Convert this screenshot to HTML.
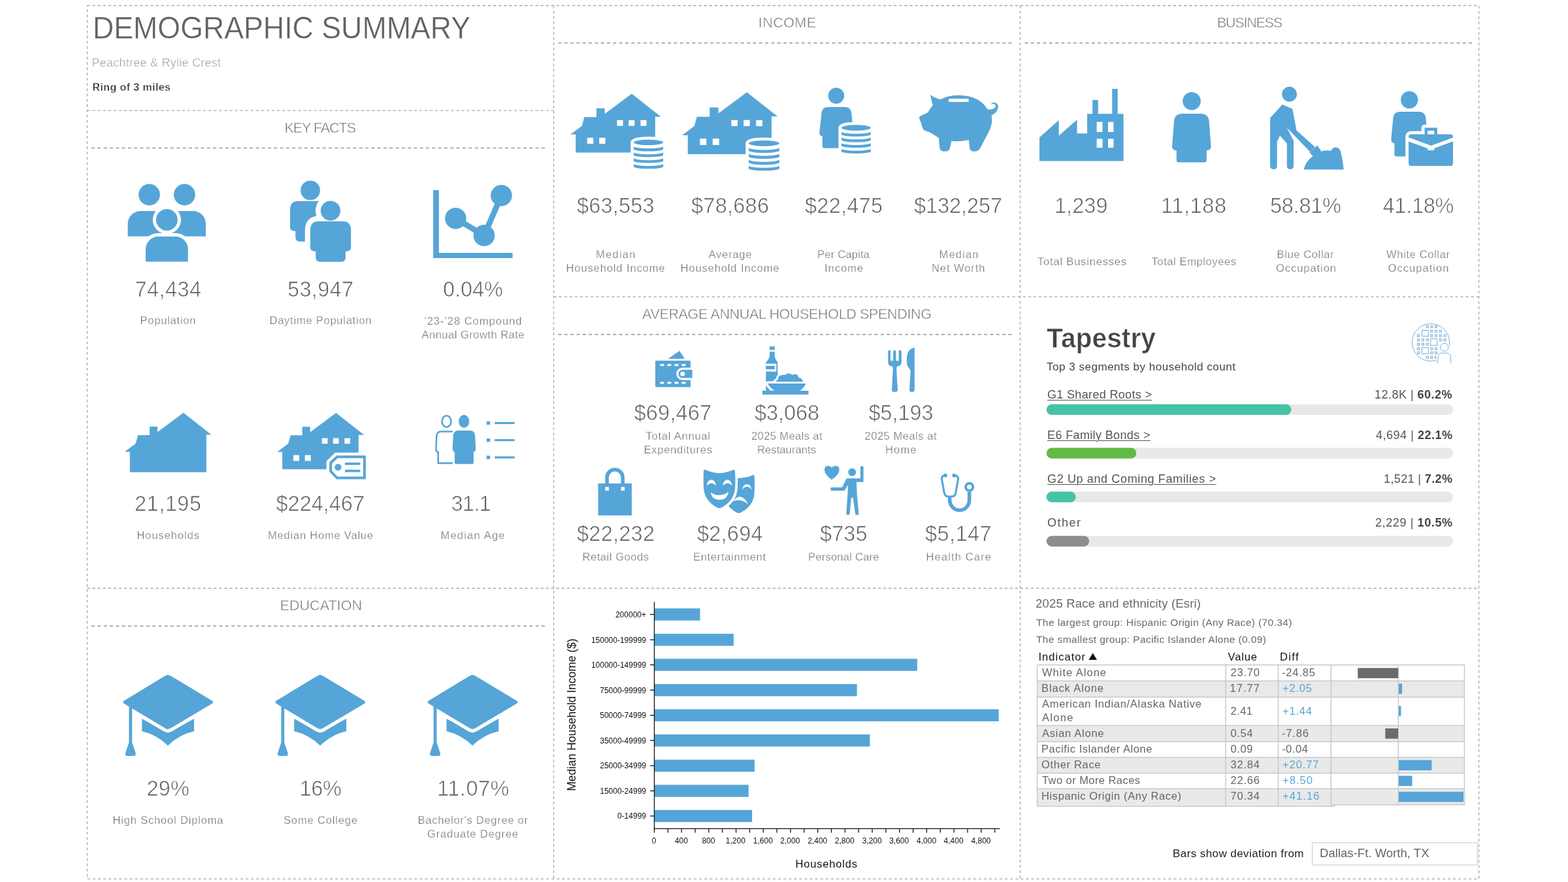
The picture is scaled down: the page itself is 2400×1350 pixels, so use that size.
<!DOCTYPE html>
<html lang="en"><head><meta charset="utf-8"><title>Demographic Summary - Peachtree &amp; Rylie Crest</title>
<style>
html,body{margin:0;padding:0;background:#fff}
body{width:2400px;height:1350px;position:relative;overflow:hidden;font-family:"Liberation Sans",sans-serif}
#g{position:absolute;left:0;top:0;width:2400px;height:1350px}
.t{position:absolute;white-space:nowrap;margin:0;padding:0}
.t b{font-weight:700;color:#444}
.ul{text-decoration:underline;text-decoration-thickness:1.2px;text-underline-offset:2px}
.title{font-size:47.5px;line-height:47.5px;color:#626262;font-weight:400;-webkit-text-stroke:0.4px #fff}
.sub{font-size:18px;line-height:18px;color:#a4a4a4;font-weight:400;-webkit-text-stroke:0.3px #fff}
.ring{font-size:16px;line-height:16px;color:#333333;font-weight:700;-webkit-text-stroke:0.3px #fff}
.hdr{font-size:21.5px;line-height:21.5px;color:#727272;font-weight:400;-webkit-text-stroke:0.5px #fff}
.num{font-size:32.5px;line-height:32.5px;color:#5f5f5f;font-weight:400;-webkit-text-stroke:0.7px #fff}
.lbl{font-size:16.5px;line-height:16.5px;color:#787878;font-weight:400;-webkit-text-stroke:0.25px #fff}
.tap{font-size:43px;line-height:43px;color:#444444;font-weight:700;-webkit-text-stroke:0.6px #fff}
.taps{font-size:17px;line-height:17px;color:#444444;font-weight:400}
.seg{font-size:18px;line-height:18px;color:#555555;font-weight:400}
.segv{font-size:18px;line-height:18px;color:#555555;font-weight:400}
.segb{font-size:18px;line-height:18px;color:#444444;font-weight:700}
.rt{font-size:18.5px;line-height:18.5px;color:#6a6a6a;font-weight:400}
.rs{font-size:15.5px;line-height:15.5px;color:#6a6a6a;font-weight:400}
.th{font-size:16.5px;line-height:16.5px;color:#111111;font-weight:400}
.td{font-size:16.5px;line-height:16.5px;color:#666666;font-weight:400}
.tdb{font-size:16.5px;line-height:16.5px;color:#5aa5d6;font-weight:400}
.bars{font-size:17px;line-height:17px;color:#222222;font-weight:400}
.dd{font-size:18.5px;line-height:18.5px;color:#666666;font-weight:400}
.ax{font-size:12px;line-height:12px;color:#111111;font-weight:400}
.axt{font-size:16.5px;line-height:16.5px;color:#111111;font-weight:400}
.axv{font-size:17.5px;line-height:17.5px;color:#111111;font-weight:400}

</style></head>
<body>
<svg id="g" width="2400" height="1350" viewBox="0 0 2400 1350">
<g fill="none" stroke="#a6a6a6" stroke-width="1.3" stroke-dasharray="4.2 3.87">
<rect x="133.5" y="8.5" width="2130.1" height="1336.9"/>
<line x1="847.5" y1="8.5" x2="847.5" y2="1345.4" />
<line x1="1561.5" y1="8.5" x2="1561.5" y2="1345.4" />
<line x1="133.5" y1="169.2" x2="847.5" y2="169.2" />
<line x1="847.5" y1="454.4" x2="2263.6" y2="454.4" />
<line x1="133.5" y1="900.5" x2="2263.6" y2="900.5" />
</g>
<g fill="none" stroke="#adadad" stroke-width="1.9" stroke-dasharray="5 4.31">
<line x1="140" y1="226.5" x2="836.7" y2="226.5" />
<line x1="140" y1="958.3" x2="836.7" y2="958.3" />
<line x1="854.5" y1="65.8" x2="1549.5" y2="65.8" />
<line x1="854.5" y1="512" x2="1550" y2="512" />
<line x1="1568.5" y1="65.7" x2="2253.8" y2="65.7" />
</g>
<rect x="1601.80" y="618.80" width="622.20" height="16.20" fill="#e8e8e8" rx="8.1"/>
<rect x="1601.80" y="618.80" width="374.56" height="16.20" fill="#46c3a7" rx="8.1"/>
<rect x="1601.80" y="685.50" width="622.20" height="16.20" fill="#e8e8e8" rx="8.1"/>
<rect x="1601.80" y="685.50" width="137.51" height="16.20" fill="#62ba46" rx="8.1"/>
<rect x="1601.80" y="752.60" width="622.20" height="16.20" fill="#e8e8e8" rx="8.1"/>
<rect x="1601.80" y="752.60" width="44.80" height="16.20" fill="#46c3a7" rx="8.1"/>
<rect x="1601.80" y="820.20" width="622.20" height="16.20" fill="#e8e8e8" rx="8.1"/>
<rect x="1601.80" y="820.20" width="65.33" height="16.20" fill="#8d8d8d" rx="8.1"/>
<rect x="1587.60" y="1042.20" width="653.90" height="24.70" fill="#e9e9e9" />
<rect x="1587.60" y="1110.50" width="653.90" height="24.70" fill="#e9e9e9" />
<rect x="1587.60" y="1159.20" width="653.90" height="24.40" fill="#e9e9e9" />
<rect x="1587.60" y="1207.20" width="653.90" height="25.30" fill="#e9e9e9" />
<rect x="1587.60" y="1232.50" width="455.60" height="1.60" fill="#e9e9e9" />
<g stroke="#c9c9c9" stroke-width="1.5" fill="none">
<line x1="1587.6" y1="1017.8" x2="2241.5" y2="1017.8" />
<line x1="1587.6" y1="1042.2" x2="2241.5" y2="1042.2" />
<line x1="1587.6" y1="1066.9" x2="2241.5" y2="1066.9" />
<line x1="1587.6" y1="1110.5" x2="2241.5" y2="1110.5" />
<line x1="1587.6" y1="1135.2" x2="2241.5" y2="1135.2" />
<line x1="1587.6" y1="1159.2" x2="2241.5" y2="1159.2" />
<line x1="1587.6" y1="1183.6" x2="2241.5" y2="1183.6" />
<line x1="1587.6" y1="1207.2" x2="2241.5" y2="1207.2" />
<line x1="2037.2" y1="1231.7" x2="2241.5" y2="1231.7" />
<line x1="1587.6" y1="1234.1" x2="2043.2" y2="1234.1" />
<line x1="1587.6" y1="1017.8" x2="1587.6" y2="1234.1" />
<line x1="1876" y1="1017.8" x2="1876" y2="1234.1" />
<line x1="1956.4" y1="1017.8" x2="1956.4" y2="1234.1" />
<line x1="2037.2" y1="1017.8" x2="2037.2" y2="1232.5" />
<line x1="2241.5" y1="1017.8" x2="2241.5" y2="1232.5" />
<line x1="2140.3" y1="1017.8" x2="2140.3" y2="1232.5" />
</g>
<rect x="2078.20" y="1022.40" width="61.80" height="15.70" fill="#6b6b6b" />
<rect x="2141.00" y="1046.40" width="5.00" height="15.70" fill="#56a5d8" />
<rect x="2141.00" y="1080.50" width="3.40" height="15.70" fill="#56a5d8" />
<rect x="2120.30" y="1114.90" width="19.70" height="15.70" fill="#6b6b6b" />
<rect x="2141.00" y="1163.40" width="50.40" height="15.70" fill="#56a5d8" />
<rect x="2141.00" y="1187.40" width="20.50" height="15.70" fill="#56a5d8" />
<rect x="2141.00" y="1211.80" width="99.00" height="15.70" fill="#56a5d8" />
<path d="M1666.4 1009.9 L1672.7 999.6 L1679 1009.9 Z" fill="#111"/>
<rect x="2008.6" y="1290" width="252.8" height="34" fill="#fff" stroke="#cfcfcf" stroke-width="1.2"/>
<rect x="1001.50" y="931.25" width="70.04" height="18.50" fill="#56a5d8" />
<rect x="1001.50" y="970.05" width="121.43" height="18.50" fill="#56a5d8" />
<rect x="1001.50" y="1008.35" width="402.43" height="18.50" fill="#56a5d8" />
<rect x="1001.50" y="1047.05" width="310.19" height="18.50" fill="#56a5d8" />
<rect x="1001.50" y="1085.55" width="527.20" height="18.50" fill="#56a5d8" />
<rect x="1001.50" y="1124.15" width="329.99" height="18.50" fill="#56a5d8" />
<rect x="1001.50" y="1162.75" width="153.43" height="18.50" fill="#56a5d8" />
<rect x="1001.50" y="1201.25" width="144.25" height="18.50" fill="#56a5d8" />
<rect x="1001.50" y="1239.75" width="149.67" height="18.50" fill="#56a5d8" />
<g stroke="#111" stroke-width="1.3" fill="none">
<line x1="1001.5" y1="921.3" x2="1001.5" y2="1268.3" />
<line x1="1000.85" y1="1268.3" x2="1530.6" y2="1268.3" />
<line x1="995" y1="940.5" x2="1001.5" y2="940.5" />
<line x1="995" y1="979.3" x2="1001.5" y2="979.3" />
<line x1="995" y1="1017.6" x2="1001.5" y2="1017.6" />
<line x1="995" y1="1056.3" x2="1001.5" y2="1056.3" />
<line x1="995" y1="1094.8" x2="1001.5" y2="1094.8" />
<line x1="995" y1="1133.4" x2="1001.5" y2="1133.4" />
<line x1="995" y1="1172" x2="1001.5" y2="1172" />
<line x1="995" y1="1210.5" x2="1001.5" y2="1210.5" />
<line x1="995" y1="1249" x2="1001.5" y2="1249" />
<line x1="1001.50" y1="1268.3" x2="1001.50" y2="1274.6" />
<line x1="1022.35" y1="1268.3" x2="1022.35" y2="1274.6" />
<line x1="1043.19" y1="1268.3" x2="1043.19" y2="1274.6" />
<line x1="1064.04" y1="1268.3" x2="1064.04" y2="1274.6" />
<line x1="1084.88" y1="1268.3" x2="1084.88" y2="1274.6" />
<line x1="1105.73" y1="1268.3" x2="1105.73" y2="1274.6" />
<line x1="1126.58" y1="1268.3" x2="1126.58" y2="1274.6" />
<line x1="1147.42" y1="1268.3" x2="1147.42" y2="1274.6" />
<line x1="1168.27" y1="1268.3" x2="1168.27" y2="1274.6" />
<line x1="1189.11" y1="1268.3" x2="1189.11" y2="1274.6" />
<line x1="1209.96" y1="1268.3" x2="1209.96" y2="1274.6" />
<line x1="1230.81" y1="1268.3" x2="1230.81" y2="1274.6" />
<line x1="1251.65" y1="1268.3" x2="1251.65" y2="1274.6" />
<line x1="1272.50" y1="1268.3" x2="1272.50" y2="1274.6" />
<line x1="1293.34" y1="1268.3" x2="1293.34" y2="1274.6" />
<line x1="1314.19" y1="1268.3" x2="1314.19" y2="1274.6" />
<line x1="1335.04" y1="1268.3" x2="1335.04" y2="1274.6" />
<line x1="1355.88" y1="1268.3" x2="1355.88" y2="1274.6" />
<line x1="1376.73" y1="1268.3" x2="1376.73" y2="1274.6" />
<line x1="1397.57" y1="1268.3" x2="1397.57" y2="1274.6" />
<line x1="1418.42" y1="1268.3" x2="1418.42" y2="1274.6" />
<line x1="1439.27" y1="1268.3" x2="1439.27" y2="1274.6" />
<line x1="1460.11" y1="1268.3" x2="1460.11" y2="1274.6" />
<line x1="1480.96" y1="1268.3" x2="1480.96" y2="1274.6" />
<line x1="1501.80" y1="1268.3" x2="1501.80" y2="1274.6" />
<line x1="1522.65" y1="1268.3" x2="1522.65" y2="1274.6" />
</g>
<g class="icon icon-population">
<circle cx="228.50" cy="298.00" r="16.40" fill="#56a5d8" />
<circle cx="282.40" cy="298.00" r="16.40" fill="#56a5d8" />
<path d="M195.6 361.8 V342.6 A19.5 19.5 0 0 1 215.1 323.1 H295.5 A19.5 19.5 0 0 1 315 342.6 V361.8 Z" fill="#56a5d8" />
<circle cx="255.40" cy="336.40" r="21.60" fill="#fff" />
<path d="M223 400.4 V381.5 A19.5 19.5 0 0 1 242.5 362 H268.3 A19.5 19.5 0 0 1 287.8 381.5 V400.4 Z" fill="#fff" stroke="#fff" stroke-width="10.4"/>
<rect x="215.00" y="400.50" width="80.00" height="8.00" fill="#fff" />
<path d="M223 400.4 V381.5 A19.5 19.5 0 0 1 242.5 362 H268.3 A19.5 19.5 0 0 1 287.8 381.5 V400.4 Z" fill="#56a5d8" />
<circle cx="255.40" cy="336.40" r="16.50" fill="#56a5d8" />
</g>
<g class="icon icon-daytime">
<circle cx="475.00" cy="291.40" r="14.90" fill="#56a5d8" />
<path d="M444 320.7 Q444 307.7 457 307.7 H493.2 Q506.2 307.7 506.2 320.7 V348.2 Q506.2 353.3 497.9 353.9 V363.2 Q497.9 369.7 491.2 369.7 H459 Q452.3 369.7 452.3 363.2 V353.9 Q444 353.3 444 348.2 Z" fill="#56a5d8" />
<path d="M475 351.8 Q475 338.8 488 338.8 H524.2 Q537.2 338.8 537.2 351.8 V379.3 Q537.2 384.40000000000003 528.9000000000001 385.0 V394.3 Q528.9000000000001 400.8 522.2 400.8 H490 Q483.3 400.8 483.3 394.3 V385.0 Q475 384.40000000000003 475 379.3 Z" fill="#fff" stroke="#fff" stroke-width="16.4"/>
<circle cx="505.90" cy="322.50" r="23.00" fill="#fff" />
<path d="M475 351.8 Q475 338.8 488 338.8 H524.2 Q537.2 338.8 537.2 351.8 V379.3 Q537.2 384.40000000000003 528.9000000000001 385.0 V394.3 Q528.9000000000001 400.8 522.2 400.8 H490 Q483.3 400.8 483.3 394.3 V385.0 Q475 384.40000000000003 475 379.3 Z" fill="#56a5d8" />
<circle cx="505.90" cy="322.50" r="15.10" fill="#56a5d8" />
</g>
<g class="icon icon-growth">
<path d="M663.1 291 H671.8 V387 H784.5 V394.9 H663.1 Z" fill="#56a5d8" />
<path d="M697.4 334.3 L740.9 360.4 L767.4 299.3" fill="none" stroke="#56a5d8" stroke-width="8.8" stroke-linejoin="round"/>
<circle cx="697.40" cy="334.30" r="16.30" fill="#56a5d8" />
<circle cx="740.90" cy="360.40" r="16.30" fill="#56a5d8" />
<circle cx="767.40" cy="299.30" r="16.30" fill="#56a5d8" />
</g>
<g class="icon icon-households">
<path d="M280.80 631.80 L323.60 665.60 L315.80 665.60 L315.80 722.70 L198.80 722.70 L198.80 691.60 L190.70 691.60 L207.60 678.90 L211.20 666.00 L229.00 666.00 L229.00 653.10 L241.10 653.10 L241.10 661.20 Z" fill="#56a5d8" />
</g>
<g class="icon icon-homevalue">
<path d="M514.40 632.00 L557.20 665.80 L548.80 665.80 L548.80 718.20 L432.10 718.20 L432.10 691.80 L424.30 691.80 L441.20 679.10 L444.80 666.20 L462.60 666.20 L462.60 653.30 L474.70 653.30 L474.70 661.40 Z" fill="#56a5d8" />
<rect x="492.80" y="670.70" width="8.70" height="8.50" fill="#fff" />
<rect x="509.80" y="670.70" width="8.70" height="8.50" fill="#fff" />
<rect x="527.30" y="670.70" width="8.70" height="8.50" fill="#fff" />
<rect x="449.00" y="696.60" width="9.00" height="8.90" fill="#fff" />
<rect x="466.70" y="696.60" width="9.00" height="8.90" fill="#fff" />
<path d="M515 697.2 H559.9 V733.6 H515 L504.2 722.2 V707.6 Z" fill="#fff" stroke="#fff" stroke-width="9" stroke-linejoin="miter"/>
<path d="M516 699.2 H557.9 V731.6 H516 L506.2 721.4 V708.4 Z" fill="#fff" stroke="#56a5d8" stroke-width="4"/>
<circle cx="517.40" cy="715.10" r="5.20" fill="#56a5d8" />
<rect x="527.90" y="708.00" width="23.50" height="3.70" fill="#56a5d8" />
<rect x="527.90" y="718.90" width="23.50" height="3.80" fill="#56a5d8" />
</g>
<g class="icon icon-medianage">
<ellipse cx="683.5" cy="645" rx="7" ry="8.7" fill="none" stroke="#56a5d8" stroke-width="2.6"/>
<path d="M692.8 660.5 H675 Q668.6 660.5 668.2 668 L667.4 687.5 Q667.4 691 670.7 692.2 V708.9 H692.8" fill="none" stroke="#56a5d8" stroke-width="2.6"/>
<path d="M693.60 667.90 Q693.60 659.10 701.60 659.10 H719.20 Q727.20 659.10 727.20 667.90 L728.10 685.50 Q728.30 691.00 724.90 692.00 V708.20 Q724.90 710.20 722.90 710.20 H697.90 Q695.90 710.20 695.90 708.20 V692.00 Q692.50 691.00 692.70 685.50 Z" fill="#fff" stroke="#fff" stroke-width="3.2"/>
<path d="M693.60 667.90 Q693.60 659.10 701.60 659.10 H719.20 Q727.20 659.10 727.20 667.90 L728.10 685.50 Q728.30 691.00 724.90 692.00 V708.20 Q724.90 710.20 722.90 710.20 H697.90 Q695.90 710.20 695.90 708.20 V692.00 Q692.50 691.00 692.70 685.50 Z" fill="#56a5d8" />
<ellipse cx="710.2" cy="645" rx="8.1" ry="10" fill="#56a5d8"/>
<rect x="744.80" y="644.90" width="5.40" height="5.20" fill="#56a5d8" />
<rect x="757.20" y="645.90" width="30.40" height="3.20" fill="#56a5d8" />
<rect x="744.80" y="671.10" width="5.40" height="5.20" fill="#56a5d8" />
<rect x="757.20" y="672.10" width="30.40" height="3.20" fill="#56a5d8" />
<rect x="744.80" y="697.50" width="5.40" height="5.20" fill="#56a5d8" />
<rect x="757.20" y="698.50" width="30.40" height="3.20" fill="#56a5d8" />
</g>
<g class="icon icon-edu1">
<path d="M 217.27 1100.00 L 257.00 1121.48 L 297.05 1100.00 V 1119.33 Q 273.64 1124.70 257.00 1141.34 Q 240.36 1124.70 217.27 1119.33 Z" fill="#56a5d8" />
<path d="M 257.00 1032.89 Q 258.61 1032.89 261.83 1034.82 L 324.11 1072.19 Q 326.48 1073.69 326.26 1074.77 Q 326.26 1075.84 324.11 1077.13 L 261.83 1114.28 Q 258.61 1116.11 257.00 1116.11 Q 255.39 1116.11 252.17 1114.28 L 190.42 1077.13 Q 188.28 1075.84 188.28 1074.55 Q 188.28 1073.48 190.42 1072.19 L 252.17 1034.82 Q 255.39 1032.89 257.00 1032.89 Z" fill="#fff" stroke="#fff" stroke-width="10.5" stroke-linejoin="round"/>
<path d="M 197.40 1080.13 H 202.23 V 1136.51 L 207.60 1152.62 Q 208.14 1156.91 205.46 1156.91 H 194.18 Q 191.50 1156.91 192.03 1152.62 L 197.40 1136.51 Z" fill="#56a5d8" />
<path d="M 257.00 1032.89 Q 258.61 1032.89 261.83 1034.82 L 324.11 1072.19 Q 326.48 1073.69 326.26 1074.77 Q 326.26 1075.84 324.11 1077.13 L 261.83 1114.28 Q 258.61 1116.11 257.00 1116.11 Q 255.39 1116.11 252.17 1114.28 L 190.42 1077.13 Q 188.28 1075.84 188.28 1074.55 Q 188.28 1073.48 190.42 1072.19 L 252.17 1034.82 Q 255.39 1032.89 257.00 1032.89 Z" fill="#56a5d8" />
</g>
<g class="icon icon-edu2">
<path d="M 450.27 1100.00 L 490.00 1121.48 L 530.05 1100.00 V 1119.33 Q 506.64 1124.70 490.00 1141.34 Q 473.36 1124.70 450.27 1119.33 Z" fill="#56a5d8" />
<path d="M 490.00 1032.89 Q 491.61 1032.89 494.83 1034.82 L 557.11 1072.19 Q 559.48 1073.69 559.26 1074.77 Q 559.26 1075.84 557.11 1077.13 L 494.83 1114.28 Q 491.61 1116.11 490.00 1116.11 Q 488.39 1116.11 485.17 1114.28 L 423.42 1077.13 Q 421.28 1075.84 421.28 1074.55 Q 421.28 1073.48 423.42 1072.19 L 485.17 1034.82 Q 488.39 1032.89 490.00 1032.89 Z" fill="#fff" stroke="#fff" stroke-width="10.5" stroke-linejoin="round"/>
<path d="M 430.40 1080.13 H 435.23 V 1136.51 L 440.60 1152.62 Q 441.14 1156.91 438.46 1156.91 H 427.18 Q 424.50 1156.91 425.03 1152.62 L 430.40 1136.51 Z" fill="#56a5d8" />
<path d="M 490.00 1032.89 Q 491.61 1032.89 494.83 1034.82 L 557.11 1072.19 Q 559.48 1073.69 559.26 1074.77 Q 559.26 1075.84 557.11 1077.13 L 494.83 1114.28 Q 491.61 1116.11 490.00 1116.11 Q 488.39 1116.11 485.17 1114.28 L 423.42 1077.13 Q 421.28 1075.84 421.28 1074.55 Q 421.28 1073.48 423.42 1072.19 L 485.17 1034.82 Q 488.39 1032.89 490.00 1032.89 Z" fill="#56a5d8" />
</g>
<g class="icon icon-edu3">
<path d="M 683.47 1100.00 L 723.20 1121.48 L 763.25 1100.00 V 1119.33 Q 739.84 1124.70 723.20 1141.34 Q 706.56 1124.70 683.47 1119.33 Z" fill="#56a5d8" />
<path d="M 723.20 1032.89 Q 724.81 1032.89 728.03 1034.82 L 790.31 1072.19 Q 792.68 1073.69 792.46 1074.77 Q 792.46 1075.84 790.31 1077.13 L 728.03 1114.28 Q 724.81 1116.11 723.20 1116.11 Q 721.59 1116.11 718.37 1114.28 L 656.62 1077.13 Q 654.48 1075.84 654.48 1074.55 Q 654.48 1073.48 656.62 1072.19 L 718.37 1034.82 Q 721.59 1032.89 723.20 1032.89 Z" fill="#fff" stroke="#fff" stroke-width="10.5" stroke-linejoin="round"/>
<path d="M 663.60 1080.13 H 668.43 V 1136.51 L 673.80 1152.62 Q 674.34 1156.91 671.66 1156.91 H 660.38 Q 657.70 1156.91 658.23 1152.62 L 663.60 1136.51 Z" fill="#56a5d8" />
<path d="M 723.20 1032.89 Q 724.81 1032.89 728.03 1034.82 L 790.31 1072.19 Q 792.68 1073.69 792.46 1074.77 Q 792.46 1075.84 790.31 1077.13 L 728.03 1114.28 Q 724.81 1116.11 723.20 1116.11 Q 721.59 1116.11 718.37 1114.28 L 656.62 1077.13 Q 654.48 1075.84 654.48 1074.55 Q 654.48 1073.48 656.62 1072.19 L 718.37 1034.82 Q 721.59 1032.89 723.20 1032.89 Z" fill="#56a5d8" />
</g>
<g class="icon icon-median_income">
<path d="M966.97 143.50 L1011.61 178.75 L1002.85 178.75 L1002.85 233.41 L881.14 233.41 L881.14 205.87 L873.00 205.87 L890.63 192.63 L894.38 179.17 L912.95 179.17 L912.95 165.72 L925.57 165.72 L925.57 174.16 Z" fill="#56a5d8" />
<rect x="944.45" y="183.86" width="9.07" height="8.87" fill="#fff" />
<rect x="962.18" y="183.86" width="9.07" height="8.87" fill="#fff" />
<rect x="980.43" y="183.86" width="9.07" height="8.87" fill="#fff" />
<rect x="898.76" y="210.88" width="9.39" height="9.28" fill="#fff" />
<rect x="917.22" y="210.88" width="9.39" height="9.28" fill="#fff" />
<path d="M969.90 218.00 A22.60 4.15 0 0 1 1015.10 218.00 V255.06 A22.60 3.30 0 0 1 969.90 255.06 Z" fill="#fff" stroke="#fff" stroke-width="9.2" stroke-linejoin="round"/>
<ellipse cx="992.50" cy="218.00" rx="22.60" ry="4.15" fill="#56a5d8"/>
<path d="M969.90 224.00 A22.60 3.30 0 0 0 1015.10 224.00 V228.30 A22.60 3.30 0 0 1 969.90 228.30 Z" fill="#56a5d8" />
<path d="M969.90 232.92 A22.60 3.30 0 0 0 1015.10 232.92 V237.22 A22.60 3.30 0 0 1 969.90 237.22 Z" fill="#56a5d8" />
<path d="M969.90 241.84 A22.60 3.30 0 0 0 1015.10 241.84 V246.14 A22.60 3.30 0 0 1 969.90 246.14 Z" fill="#56a5d8" />
<path d="M969.90 250.76 A22.60 3.30 0 0 0 1015.10 250.76 V255.06 A22.60 3.30 0 0 1 969.90 255.06 Z" fill="#56a5d8" />
</g>
<g class="icon icon-avg_income">
<path d="M1143.18 141.20 L1190.20 178.33 L1180.98 178.33 L1180.98 235.90 L1052.77 235.90 L1052.77 206.90 L1044.20 206.90 L1062.77 192.94 L1066.72 178.77 L1086.28 178.77 L1086.28 164.60 L1099.57 164.60 L1099.57 173.50 Z" fill="#56a5d8" />
<rect x="1119.45" y="183.72" width="9.56" height="9.34" fill="#fff" />
<rect x="1138.13" y="183.72" width="9.56" height="9.34" fill="#fff" />
<rect x="1157.36" y="183.72" width="9.56" height="9.34" fill="#fff" />
<rect x="1071.34" y="212.17" width="9.89" height="9.78" fill="#fff" />
<rect x="1090.78" y="212.17" width="9.89" height="9.78" fill="#fff" />
<path d="M1145.90 219.40 A23.50 4.40 0 0 1 1192.90 219.40 V257.95 A23.50 3.40 0 0 1 1145.90 257.95 Z" fill="#fff" stroke="#fff" stroke-width="9.2" stroke-linejoin="round"/>
<ellipse cx="1169.40" cy="219.40" rx="23.50" ry="4.40" fill="#56a5d8"/>
<path d="M1145.90 226.00 A23.50 3.40 0 0 0 1192.90 226.00 V230.50 A23.50 3.40 0 0 1 1145.90 230.50 Z" fill="#56a5d8" />
<path d="M1145.90 235.15 A23.50 3.40 0 0 0 1192.90 235.15 V239.65 A23.50 3.40 0 0 1 1145.90 239.65 Z" fill="#56a5d8" />
<path d="M1145.90 244.30 A23.50 3.40 0 0 0 1192.90 244.30 V248.80 A23.50 3.40 0 0 1 1145.90 248.80 Z" fill="#56a5d8" />
<path d="M1145.90 253.45 A23.50 3.40 0 0 0 1192.90 253.45 V257.95 A23.50 3.40 0 0 1 1145.90 257.95 Z" fill="#56a5d8" />
</g>
<g class="icon icon-percapita">
<circle cx="1279.90" cy="146.50" r="12.20" fill="#56a5d8" />
<path d="M1257.20 175.90 Q1257.20 163.80 1268.20 163.80 H1292.50 Q1303.50 163.80 1303.50 175.90 L1306.50 202.30 Q1306.70 207.80 1301.90 208.80 V223.70 Q1301.90 226.70 1298.90 226.70 H1261.80 Q1258.80 226.70 1258.80 223.70 V208.80 Q1254.00 207.80 1254.20 202.30 Z" fill="#56a5d8" />
<path d="M1288.00 195.60 A22.40 4.30 0 0 1 1332.80 195.60 V231.71 A22.40 3.30 0 0 1 1288.00 231.71 Z" fill="#fff" stroke="#fff" stroke-width="9.2" stroke-linejoin="round"/>
<ellipse cx="1310.40" cy="195.60" rx="22.40" ry="4.30" fill="#56a5d8"/>
<path d="M1288.00 201.40 A22.40 3.30 0 0 0 1332.80 201.40 V205.70 A22.40 3.30 0 0 1 1288.00 205.70 Z" fill="#56a5d8" />
<path d="M1288.00 210.07 A22.40 3.30 0 0 0 1332.80 210.07 V214.37 A22.40 3.30 0 0 1 1288.00 214.37 Z" fill="#56a5d8" />
<path d="M1288.00 218.74 A22.40 3.30 0 0 0 1332.80 218.74 V223.04 A22.40 3.30 0 0 1 1288.00 223.04 Z" fill="#56a5d8" />
<path d="M1288.00 227.41 A22.40 3.30 0 0 0 1332.80 227.41 V231.71 A22.40 3.30 0 0 1 1288.00 231.71 Z" fill="#56a5d8" />
</g>
<g class="icon icon-networth">
<path d="M 1423.97 145.16 Q 1430.78 150.02 1439.30 152.32 Q 1451.23 145.76 1465.71 145.76 Q 1485.30 145.76 1497.23 153.00 Q 1505.75 158.11 1510.86 166.63 Q 1517.68 168.76 1521.94 165.78 Q 1525.35 162.80 1522.79 159.82 Q 1520.23 158.11 1516.83 159.99 Q 1517.68 157.09 1521.94 157.09 Q 1527.90 157.69 1527.90 164.08 Q 1526.62 172.60 1517.68 176.43 Q 1518.96 184.52 1517.68 189.64 Q 1515.97 198.15 1511.71 204.97 L 1500.21 227.12 Q 1497.23 231.81 1491.27 231.81 Q 1484.45 231.81 1484.03 226.27 L 1482.75 214.34 Q 1469.97 216.90 1456.34 216.05 L 1453.95 227.12 Q 1452.93 231.81 1446.12 231.81 Q 1439.30 231.81 1438.28 226.27 L 1436.74 210.93 Q 1429.08 205.82 1423.11 202.41 Q 1418.00 200.71 1414.59 199.43 Q 1412.04 197.30 1410.33 189.64 Q 1408.63 185.38 1406.93 181.12 Q 1406.93 177.71 1412.04 176.00 L 1419.71 172.60 Q 1423.97 165.78 1427.80 160.67 Q 1426.10 155.56 1423.97 145.16 Z" fill="#56a5d8" />
<rect x="1451.90" y="150.90" width="30.80" height="5.10" fill="#fff" rx="1.2"/>
</g>
<g class="icon icon-businesses">
<path d="M 1591.07 246.50 V 210.20 L 1620.63 183.92 V 207.80 L 1648.55 183.25 V 204.14 H 1664.05 V 174.29 H 1672.23 V 152.92 H 1680.80 V 174.29 H 1702.27 V 135.88 H 1710.74 V 174.29 H 1719.60 V 246.50 Z" fill="#56a5d8" />
<rect x="1678.70" y="186.60" width="8.80" height="15.40" fill="#fff" />
<rect x="1678.70" y="212.40" width="8.80" height="13.70" fill="#fff" />
<rect x="1696.00" y="186.60" width="8.40" height="15.40" fill="#fff" />
<rect x="1696.00" y="212.40" width="8.40" height="13.70" fill="#fff" />
</g>
<g class="icon icon-employees">
<circle cx="1824.00" cy="154.70" r="13.80" fill="#56a5d8" />
<path d="M1796.80 188.30 Q1796.80 174.00 1809.80 174.00 H1837.80 Q1850.80 174.00 1850.80 188.30 L1853.60 224.00 Q1853.80 229.50 1846.80 230.50 V245.00 Q1846.80 248.50 1843.30 248.50 H1804.30 Q1800.80 248.50 1800.80 245.00 V230.50 Q1793.80 229.50 1794.00 224.00 Z" fill="#56a5d8" />
</g>
<g class="icon icon-bluecollar">
<circle cx="1973.60" cy="144.20" r="11.40" fill="#56a5d8" />
<path d="M 1962.78 160.00 L 1978.33 166.67 L 1984.44 199.44 L 2012.78 225.00 L 2005.33 232.44 L 1969.78 195.56 L 1980.00 215.56 V 253.89 Q 1980.00 259.11 1974.89 259.11 Q 1969.78 259.11 1969.78 253.89 V 219.44 L 1959.11 207.78 L 1954.67 216.67 V 253.89 Q 1954.67 259.11 1949.44 259.11 Q 1944.11 259.11 1944.11 253.89 V 180.56 Z" fill="#56a5d8" />
<path d="M 2016.11 222.78 L 2022.22 231.11 L 2010.00 239.44 L 2004.22 233.33 Z" fill="#56a5d8" />
<path d="M 1995.56 259.44 Q 1998.89 246.67 2007.78 240.56 Q 2017.78 232.22 2024.44 231.11 Q 2032.22 229.44 2037.22 231.11 Q 2039.44 225.56 2044.44 225.56 Q 2050.00 226.11 2051.67 231.11 Q 2055.00 242.22 2056.67 259.44 Z" fill="#56a5d8" />
</g>
<g class="icon icon-whitecollar">
<circle cx="2157.20" cy="152.80" r="13.20" fill="#56a5d8" />
<path d="M2132.20 183.10 Q2132.20 171.00 2143.20 171.00 H2171.50 Q2182.50 171.00 2182.50 183.10 L2185.40 213.00 Q2185.60 218.50 2180.40 219.50 V236.50 Q2180.40 239.50 2177.40 239.50 H2137.30 Q2134.30 239.50 2134.30 236.50 V219.50 Q2129.10 218.50 2129.30 213.00 Z" fill="#56a5d8" />
<path d="M2160 205.5 H2220 Q2224 205.5 2224 209.5 V250 Q2224 254 2220 254 H2160 Q2156 254 2156 250 V209.5 Q2156 205.5 2160 205.5 Z M2180.5 206 V195.5 H2199.8 V206 Z" fill="#fff" stroke="#fff" stroke-width="9.6" stroke-linejoin="round"/>
<path d="M2160 205.5 H2220 Q2224 205.5 2224 209.5 V250 Q2224 254 2220 254 H2160 Q2156 254 2156 250 V209.5 Q2156 205.5 2160 205.5 Z" fill="#56a5d8" />
<path d="M2182.8 206 V197.8 H2197.5 V206" fill="none" stroke="#56a5d8" stroke-width="4.6"/>
<path d="M2155 213 L2190.2 226 L2225 213" fill="none" stroke="#fff" stroke-width="5.6"/>
<rect x="2185.20" y="224.00" width="10.00" height="6.00" fill="#fff" />
</g>
<g class="icon icon-expenditures">
<path d="M1022.3 549.3 L1040.1 537.1 L1048.1 549.3 Z" fill="#56a5d8" />
<rect x="1003.00" y="552.00" width="54.00" height="40.60" fill="#56a5d8" rx="1.5"/>
<line x1="1010.4" y1="558.8" x2="1050" y2="558.8" stroke="#fff" stroke-width="3" stroke-dasharray="6 5"/>
<line x1="1010.4" y1="586.0" x2="1050" y2="586.0" stroke="#fff" stroke-width="3" stroke-dasharray="6 5"/>
<path d="M1059.6 565.9 H1044.7 A6.35 6.35 0 0 0 1044.7 578.6 H1059.6 Z" fill="#56a5d8" stroke="#fff" stroke-width="6.2" paint-order="stroke"/>
<rect x="1057.20" y="565.90" width="2.60" height="12.70" fill="#56a5d8" />
<rect x="1057.10" y="562.20" width="5.90" height="3.65" fill="#fff" />
<rect x="1057.10" y="578.65" width="5.90" height="3.75" fill="#fff" />
<rect x="1059.70" y="560.00" width="4.30" height="24.00" fill="#fff" />
<circle cx="1044.80" cy="572.20" r="3.50" fill="#fff" />
</g>
<g class="icon icon-restaurants">
<rect x="1178.00" y="530.30" width="7.80" height="5.40" fill="#56a5d8" />
<path d="M 1178.00 538.33 H 1185.80 V 545.33 Q 1186.33 549.33 1190.33 554.67 V 598.00 H 1172.33 V 554.67 Q 1177.33 549.33 1178.00 545.33 Z" fill="#56a5d8" />
<rect x="1172.30" y="556.70" width="16.00" height="12.00" fill="#fff" />
<rect x="1172.30" y="560.00" width="13.50" height="5.30" fill="#56a5d8" />
<rect x="1167.00" y="598.00" width="70.30" height="5.70" fill="#56a5d8" />
<path d="M 1175.00 587.00 H 1233.67 Q 1230.33 594.00 1224.33 598.00 H 1185.33 Q 1179.00 594.00 1175.00 587.00 Z" fill="#fff" stroke="#fff" stroke-width="7" stroke-linejoin="round"/>
<path d="M 1186.33 584.33 Q 1189.67 582.00 1191.33 580.00 Q 1190.33 576.67 1194.33 574.67 Q 1198.33 573.33 1201.67 574.00 Q 1204.33 570.67 1208.33 571.67 Q 1211.67 572.67 1213.00 574.00 Q 1216.33 571.67 1219.67 573.33 Q 1222.33 575.33 1222.33 578.00 Q 1227.00 578.67 1228.33 582.00 Q 1229.00 583.33 1229.00 584.33 Z" fill="#fff" stroke="#fff" stroke-width="6" stroke-linejoin="round"/>
<rect x="1167.00" y="598.00" width="70.30" height="5.70" fill="#56a5d8" />
<path d="M 1175.00 587.00 H 1233.67 Q 1230.33 594.00 1224.33 598.00 H 1185.33 Q 1179.00 594.00 1175.00 587.00 Z" fill="#56a5d8" />
<path d="M 1186.33 584.33 Q 1189.67 582.00 1191.33 580.00 Q 1190.33 576.67 1194.33 574.67 Q 1198.33 573.33 1201.67 574.00 Q 1204.33 570.67 1208.33 571.67 Q 1211.67 572.67 1213.00 574.00 Q 1216.33 571.67 1219.67 573.33 Q 1222.33 575.33 1222.33 578.00 Q 1227.00 578.67 1228.33 582.00 Q 1229.00 583.33 1229.00 584.33 Z" fill="#56a5d8" />
</g>
<g class="icon icon-mealshome">
<path d="M 1359.33 538.33 Q 1359.33 536.00 1361.13 536.00 Q 1363.00 536.00 1363.00 538.33 V 552.33 H 1367.20 V 538.33 Q 1367.20 536.00 1369.27 536.00 Q 1371.33 536.00 1371.33 538.33 V 552.33 H 1375.67 V 538.33 Q 1375.67 536.00 1377.73 536.00 Q 1379.80 536.00 1379.80 538.33 V 554.67 Q 1379.80 559.33 1375.00 560.33 Q 1372.00 560.80 1372.13 564.00 L 1374.00 596.67 Q 1374.00 600.00 1369.47 600.00 Q 1365.00 600.00 1365.00 596.67 L 1366.87 564.00 Q 1367.00 560.80 1364.00 560.33 Q 1359.33 559.33 1359.33 554.67 Z" fill="#56a5d8" />
<path d="M 1399.80 531.87 V 596.67 Q 1399.80 600.00 1395.87 600.00 Q 1392.00 600.00 1392.00 596.67 L 1393.67 568.00 Q 1393.80 566.00 1391.67 563.67 Q 1388.00 560.00 1388.00 554.67 V 546.67 Q 1388.33 534.67 1399.80 531.87 Z" fill="#56a5d8" />
</g>
<g class="icon icon-retail">
<path d="M929.05 748 V730.75 A12 12 0 0 1 953.15 730.75 V748" fill="none" stroke="#56a5d8" stroke-width="5.5"/>
<rect x="915.50" y="740.00" width="51.40" height="48.90" fill="#56a5d8" />
<rect x="926.30" y="745.30" width="5.60" height="5.70" fill="#fff" />
<rect x="950.60" y="745.30" width="5.50" height="5.70" fill="#fff" />
</g>
<g class="icon icon-entertainment">
<path d="M 1128.00 732.00 Q 1143.67 731.67 1151.67 727.33 Q 1154.00 726.33 1154.67 728.33 Q 1155.67 745.00 1154.33 758.33 Q 1151.67 775.67 1133.67 784.67 Q 1130.33 786.00 1127.00 784.33 Q 1118.33 779.00 1115.00 774.33 Q 1125.00 765.00 1127.00 757.00 Z" fill="#56a5d8" />
<path d="M 1136.00 749.67 Q 1137.67 741.33 1143.33 741.00 Q 1149.00 741.33 1150.67 749.67 Q 1147.67 745.00 1143.33 745.00 Q 1139.00 745.00 1136.00 749.67 Z" fill="#fff" />
<path d="M 1121.67 767.33 Q 1127.00 760.33 1132.33 760.33 Q 1141.00 761.67 1145.00 772.33 Q 1139.67 766.33 1132.33 765.67 Q 1127.00 765.33 1121.67 767.33 Z" fill="#fff" />
<path d="M 1077.00 721.00 Q 1077.33 718.33 1080.00 719.33 Q 1090.33 724.00 1101.00 724.33 Q 1111.67 724.00 1122.00 719.33 Q 1124.67 718.33 1125.00 721.00 Q 1126.00 735.00 1125.00 748.33 Q 1123.00 767.00 1104.33 777.00 Q 1101.00 778.33 1097.67 777.00 Q 1079.00 767.00 1077.13 748.33 Q 1076.33 735.00 1077.00 721.00 Z" fill="#56a5d8" stroke="#fff" stroke-width="7.5" paint-order="stroke"/>
<path d="M 1081.67 743.67 Q 1082.80 734.67 1088.80 734.33 Q 1094.80 734.67 1095.93 743.67 Q 1092.80 739.67 1088.80 739.67 Q 1084.80 739.67 1081.67 743.67 Z" fill="#fff" />
<path d="M 1106.20 743.67 Q 1107.33 734.67 1113.33 734.33 Q 1119.33 734.67 1120.47 743.67 Q 1117.33 739.67 1113.33 739.67 Q 1109.33 739.67 1106.20 743.67 Z" fill="#fff" />
<path d="M 1087.67 753.67 Q 1101.33 762.33 1115.00 753.00 Q 1113.00 765.00 1101.33 765.00 Q 1089.67 765.00 1087.67 753.67 Z" fill="#fff" />
</g>
<g class="icon icon-personalcare">
<path d="M 1273.00 734.33 Q 1262.00 726.33 1262.00 719.33 Q 1262.00 713.00 1267.67 713.00 Q 1271.33 713.00 1273.00 716.00 Q 1275.00 713.00 1279.00 713.00 Q 1284.67 713.00 1284.67 719.33 Q 1284.67 726.33 1273.00 734.33 Z" fill="#56a5d8" />
<circle cx="1304.30" cy="722.70" r="6.00" fill="#56a5d8" />
<path d="M 1296.67 732.33 H 1316.87 V 716.00 Q 1316.87 713.33 1319.27 713.33 Q 1321.67 713.33 1321.67 716.00 V 737.67 H 1311.00 L 1311.67 755.67 L 1314.33 785.67 Q 1314.33 788.33 1311.67 788.33 Q 1309.33 788.33 1309.00 786.00 L 1305.67 761.67 H 1303.00 L 1300.67 786.00 Q 1300.33 788.33 1298.00 788.33 Q 1295.33 788.33 1295.33 785.67 L 1297.67 751.67 V 742.33 L 1292.67 751.00 H 1273.33 Q 1271.00 751.00 1271.00 748.47 Q 1271.00 746.00 1273.33 746.00 H 1289.00 L 1295.00 733.67 Q 1295.67 732.33 1296.67 732.33 Z" fill="#56a5d8" />
</g>
<g class="icon icon-healthcare">
<path d="M 1447.00 727.67 Q 1441.67 728.00 1441.33 732.67 L 1445.20 754.00 Q 1446.00 759.67 1451.33 760.00 H 1457.33 Q 1462.00 759.67 1462.80 754.00 L 1466.67 732.67 Q 1466.33 728.00 1460.33 727.67" fill="none" stroke="#56a5d8" stroke-width="3.1" stroke-linecap="round"/>
<circle cx="1447.00" cy="727.70" r="2.90" fill="#56a5d8" />
<circle cx="1460.30" cy="727.70" r="2.90" fill="#56a5d8" />
<path d="M 1453.67 760.00 V 765.33 A 15.00 15.67 0 0 0 1483.67 765.33 V 752.67" fill="none" stroke="#56a5d8" stroke-width="5.6"/>
<circle cx="1483.7" cy="745.3" r="5.6" fill="#fff" stroke="#56a5d8" stroke-width="3.9"/>
</g>
<g class="icon icon-tapestry">
<circle cx="2190" cy="524.1" r="28.6" fill="none" stroke="#7badd6" stroke-width="1"/>
<g fill="#d9ebf8" stroke="#7badd6" stroke-width="0.9">
<rect x="2169.4" y="512.0" width="3.2" height="3.2"/>
<rect x="2169.4" y="518.7" width="3.2" height="3.2"/>
<rect x="2169.4" y="525.4" width="3.2" height="3.2"/>
<rect x="2169.4" y="532.1" width="3.2" height="3.2"/>
<rect x="2169.4" y="538.5" width="3.2" height="3.2"/>
<rect x="2176.3" y="518.7" width="3.2" height="3.2"/>
<rect x="2176.3" y="525.4" width="3.2" height="3.2"/>
<rect x="2183.1" y="498.5" width="3.2" height="3.2"/>
<rect x="2183.1" y="518.7" width="3.2" height="3.2"/>
<rect x="2183.1" y="525.4" width="3.2" height="3.2"/>
<rect x="2183.1" y="545.3" width="3.2" height="3.2"/>
<rect x="2189.7" y="498.5" width="3.2" height="3.2"/>
<rect x="2189.7" y="505.3" width="3.2" height="3.2"/>
<rect x="2189.7" y="512.0" width="3.2" height="3.2"/>
<rect x="2189.7" y="532.1" width="3.2" height="3.2"/>
<rect x="2189.7" y="538.5" width="3.2" height="3.2"/>
<rect x="2189.7" y="545.3" width="3.2" height="3.2"/>
<rect x="2196.4" y="498.5" width="3.2" height="3.2"/>
<rect x="2196.4" y="505.3" width="3.2" height="3.2"/>
<rect x="2196.4" y="512.0" width="3.2" height="3.2"/>
<rect x="2196.4" y="532.1" width="3.2" height="3.2"/>
<rect x="2196.4" y="538.5" width="3.2" height="3.2"/>
<rect x="2196.4" y="545.3" width="3.2" height="3.2"/>
<rect x="2203.2" y="505.3" width="3.2" height="3.2"/>
<rect x="2203.2" y="512.0" width="3.2" height="3.2"/>
<rect x="2203.2" y="518.7" width="3.2" height="3.2"/>
<rect x="2209.9" y="512.0" width="3.2" height="3.2"/>
<rect x="2209.9" y="518.7" width="3.2" height="3.2"/>
</g>
<rect x="2176.4" y="505.5" width="9.8" height="9.1" fill="#fff" stroke="#7badd6" stroke-width="1"/>
<rect x="2189.8" y="518.5" width="9.9" height="10.1" fill="#fff" stroke="#7badd6" stroke-width="1"/>
<rect x="2176.4" y="532.1" width="9.8" height="9.5" fill="#fff" stroke="#7badd6" stroke-width="1"/>
<path d="M2199 558 V546 Q2199 539 2206 539 H2215 Q2222.5 539 2222.5 546 V558 Z" fill="#fff"/>
<circle cx="2210.80" cy="531.50" r="8.00" fill="#fff" />
<circle cx="2210.8" cy="531.5" r="6.1" fill="#fff" stroke="#7badd6" stroke-width="1"/>
<path d="M2200.7 556.1 L2201.3 546 Q2201.8 540.4 2207 540.4 H2214.5 Q2219.7 540.4 2220.2 546 L2220.8 556.1" fill="none" stroke="#7badd6" stroke-width="1"/>
</g>
</svg>
<div id="t0" class="t title" style="transform:scaleX(0.9413);transform-origin:0 0;left:142.00px;top:19.00px">DEMOGRAPHIC SUMMARY</div>
<div id="t1" class="t sub" style="left:140.50px;top:87.00px;letter-spacing:0.246px">Peachtree &amp; Rylie Crest</div>
<div id="t2" class="t ring" style="left:141.50px;top:126.00px;letter-spacing:0.407px">Ring of 3 miles</div>
<div id="t3" class="t hdr" style="left:435.50px;top:186.00px;letter-spacing:-1.050px">KEY FACTS</div>
<div id="t4" class="t hdr" style="left:428.50px;top:917.00px;letter-spacing:0.059px">EDUCATION</div>
<div id="t5" class="t hdr" style="left:1160.75px;top:25.00px;letter-spacing:0.450px">INCOME</div>
<div id="t6" class="t hdr" style="left:1863.00px;top:25.00px;letter-spacing:-1.248px">BUSINESS</div>
<div id="t7" class="t hdr" style="left:983.00px;top:471.00px;letter-spacing:-0.344px">AVERAGE ANNUAL HOUSEHOLD SPENDING</div>
<div id="t8" class="t num" style="left:206.50px;top:427.00px;letter-spacing:0.419px">74,434</div>
<div id="t9" class="t num" style="left:440.00px;top:427.00px;letter-spacing:0.319px">53,947</div>
<div id="t10" class="t num" style="left:678.00px;top:427.00px;letter-spacing:-0.038px">0.04%</div>
<div id="t11" class="t num" style="left:206.00px;top:755.00px;letter-spacing:0.519px">21,195</div>
<div id="t12" class="t num" style="left:422.50px;top:755.00px;letter-spacing:-0.008px">$224,467</div>
<div id="t13" class="t num" style="left:690.50px;top:755.00px;letter-spacing:-0.752px">31.1</div>
<div id="t14" class="t num" style="left:224.50px;top:1191.00px;letter-spacing:0.226px">29%</div>
<div id="t15" class="t num" style="left:458.50px;top:1191.00px;letter-spacing:-0.274px">16%</div>
<div id="t16" class="t num" style="left:669.00px;top:1191.00px;letter-spacing:0.537px">11.07%</div>
<div id="t17" class="t num" style="left:883.00px;top:299.00px;letter-spacing:0.170px">$63,553</div>
<div id="t18" class="t num" style="left:1058.00px;top:299.00px;letter-spacing:0.253px">$78,686</div>
<div id="t19" class="t num" style="left:1232.00px;top:299.00px;letter-spacing:0.253px">$22,475</div>
<div id="t20" class="t num" style="left:1399.00px;top:299.00px;letter-spacing:-0.080px">$132,257</div>
<div id="t21" class="t num" style="left:1614.00px;top:299.00px;letter-spacing:0.042px">1,239</div>
<div id="t22" class="t num" style="left:1777.00px;top:299.00px;letter-spacing:0.601px">11,188</div>
<div id="t23" class="t num" style="left:1944.00px;top:299.00px;letter-spacing:-0.246px">58.81%</div>
<div id="t24" class="t num" style="left:2116.50px;top:299.00px;letter-spacing:-0.246px">41.18%</div>
<div id="t25" class="t num" style="left:970.50px;top:616.00px;letter-spacing:0.170px">$69,467</div>
<div id="t26" class="t num" style="left:1155.00px;top:616.00px;letter-spacing:-0.081px">$3,068</div>
<div id="t27" class="t num" style="left:1329.50px;top:616.00px;letter-spacing:-0.081px">$5,193</div>
<div id="t28" class="t num" style="left:883.00px;top:801.00px;letter-spacing:0.253px">$22,232</div>
<div id="t29" class="t num" style="left:1067.00px;top:801.00px;letter-spacing:0.219px">$2,694</div>
<div id="t30" class="t num" style="left:1255.00px;top:801.00px;letter-spacing:0.066px">$735</div>
<div id="t31" class="t num" style="left:1416.00px;top:801.00px;letter-spacing:0.419px">$5,147</div>
<div id="t32" class="t lbl" style="left:214.50px;top:482.00px;letter-spacing:0.780px">Population</div>
<div id="t33" class="t lbl" style="left:412.50px;top:482.00px;letter-spacing:0.760px">Daytime Population</div>
<div id="t34" class="t lbl" style="left:649.50px;top:483.00px;letter-spacing:1.013px">'23-'28 Compound</div>
<div id="t35" class="t lbl" style="left:645.50px;top:504.00px;letter-spacing:0.495px">Annual Growth Rate</div>
<div id="t36" class="t lbl" style="left:209.50px;top:811.00px;letter-spacing:0.929px">Households</div>
<div id="t37" class="t lbl" style="left:410.00px;top:811.00px;letter-spacing:0.795px">Median Home Value</div>
<div id="t38" class="t lbl" style="left:674.50px;top:811.00px;letter-spacing:1.205px">Median Age</div>
<div id="t39" class="t lbl" style="left:172.50px;top:1247.00px;letter-spacing:0.829px">High School Diploma</div>
<div id="t40" class="t lbl" style="left:434.00px;top:1247.00px;letter-spacing:0.851px">Some College</div>
<div id="t41" class="t lbl" style="left:639.50px;top:1247.00px;letter-spacing:0.738px">Bachelor's Degree or</div>
<div id="t42" class="t lbl" style="left:654.00px;top:1268.00px;letter-spacing:0.821px">Graduate Degree</div>
<div id="t43" class="t lbl" style="left:912.00px;top:381.00px;letter-spacing:1.276px">Median</div>
<div id="t44" class="t lbl" style="left:866.50px;top:402.00px;letter-spacing:0.894px">Household Income</div>
<div id="t45" class="t lbl" style="left:1084.50px;top:381.00px;letter-spacing:0.807px">Average</div>
<div id="t46" class="t lbl" style="left:1041.50px;top:402.00px;letter-spacing:0.894px">Household Income</div>
<div id="t47" class="t lbl" style="left:1251.00px;top:381.00px;letter-spacing:0.227px">Per Capita</div>
<div id="t48" class="t lbl" style="left:1262.00px;top:402.00px;letter-spacing:0.978px">Income</div>
<div id="t49" class="t lbl" style="left:1437.50px;top:381.00px;letter-spacing:1.176px">Median</div>
<div id="t50" class="t lbl" style="left:1426.00px;top:402.00px;letter-spacing:0.941px">Net Worth</div>
<div id="t51" class="t lbl" style="left:1588.00px;top:392.00px;letter-spacing:0.812px">Total Businesses</div>
<div id="t52" class="t lbl" style="left:1762.50px;top:392.00px;letter-spacing:0.603px">Total Employees</div>
<div id="t53" class="t lbl" style="left:1954.50px;top:381.00px;letter-spacing:0.629px">Blue Collar</div>
<div id="t54" class="t lbl" style="left:1953.00px;top:402.00px;letter-spacing:0.948px">Occupation</div>
<div id="t55" class="t lbl" style="left:2122.00px;top:381.00px;letter-spacing:0.649px">White Collar</div>
<div id="t56" class="t lbl" style="left:2124.50px;top:402.00px;letter-spacing:1.059px">Occupation</div>
<div id="t57" class="t lbl" style="left:988.50px;top:659.00px;letter-spacing:0.781px">Total Annual</div>
<div id="t58" class="t lbl" style="left:985.50px;top:680.00px;letter-spacing:0.744px">Expenditures</div>
<div id="t59" class="t lbl" style="left:1150.00px;top:659.00px;letter-spacing:0.404px">2025 Meals at</div>
<div id="t60" class="t lbl" style="left:1159.00px;top:680.00px;letter-spacing:0.104px">Restaurants</div>
<div id="t61" class="t lbl" style="left:1323.50px;top:659.00px;letter-spacing:0.529px">2025 Meals at</div>
<div id="t62" class="t lbl" style="left:1355.00px;top:680.00px;letter-spacing:1.162px">Home</div>
<div id="t63" class="t lbl" style="left:891.50px;top:844.00px;letter-spacing:0.556px">Retail Goods</div>
<div id="t64" class="t lbl" style="left:1061.00px;top:844.00px;letter-spacing:0.690px">Entertainment</div>
<div id="t65" class="t lbl" style="left:1237.00px;top:844.00px;letter-spacing:0.252px">Personal Care</div>
<div id="t66" class="t lbl" style="left:1417.50px;top:844.00px;letter-spacing:1.145px">Health Care</div>
<div id="t67" class="t tap" style="transform:scaleX(0.9486);transform-origin:0 0;left:1602.00px;top:496.00px">Tapestry</div>
<div id="t68" class="t taps" style="left:1602.00px;top:553.00px;letter-spacing:0.525px">Top 3 segments by household count</div>
<div id="t69" class="t seg ul" style="left:1603.00px;top:595.00px;letter-spacing:0.338px">G1 Shared Roots &gt;</div>
<div id="t70" class="t seg ul" style="left:1603.00px;top:657.00px;letter-spacing:0.371px">E6 Family Bonds &gt;</div>
<div id="t71" class="t seg ul" style="left:1603.00px;top:724.00px;letter-spacing:0.630px">G2 Up and Coming Families &gt;</div>
<div id="t72" class="t seg" style="left:1603.00px;top:791.00px;letter-spacing:1.495px">Other</div>
<div id="t73" class="t segv" style="left:2104.00px;top:595.00px;letter-spacing:0.479px">12.8K | <b>60.2%</b></div>
<div id="t74" class="t segv" style="left:2106.00px;top:657.00px;letter-spacing:0.520px">4,694 | <b>22.1%</b></div>
<div id="t75" class="t segv" style="left:2118.00px;top:724.00px;letter-spacing:0.386px">1,521 | <b>7.2%</b></div>
<div id="t76" class="t segv" style="left:2105.00px;top:791.00px;letter-spacing:0.603px">2,229 | <b>10.5%</b></div>
<div id="t77" class="t rt" style="left:1585.00px;top:915.00px;letter-spacing:0.179px">2025 Race and ethnicity (Esri)</div>
<div id="t78" class="t rs" style="left:1586.00px;top:945.00px;letter-spacing:0.405px">The largest group: Hispanic Origin (Any Race) (70.34)</div>
<div id="t79" class="t rs" style="left:1586.00px;top:971.00px;letter-spacing:0.387px">The smallest group: Pacific Islander Alone (0.09)</div>
<div id="t80" class="t th" style="left:1589.50px;top:997.00px;letter-spacing:1.027px">Indicator</div>
<div id="t81" class="t th" style="left:1879.50px;top:997.00px;letter-spacing:0.880px">Value</div>
<div id="t82" class="t th" style="left:1959.00px;top:997.00px;letter-spacing:1.349px">Diff</div>
<div id="t83" class="t td" style="left:1595.00px;top:1021.00px;letter-spacing:0.995px">White Alone</div>
<div id="t84" class="t td" style="left:1883.50px;top:1021.00px;letter-spacing:0.802px">23.70</div>
<div id="t85" class="t td" style="left:1962.00px;top:1021.00px;letter-spacing:0.843px">-24.85</div>
<div id="t86" class="t td" style="left:1594.00px;top:1045.00px;letter-spacing:0.877px">Black Alone</div>
<div id="t87" class="t td" style="left:1882.50px;top:1045.00px;letter-spacing:1.052px">17.77</div>
<div id="t88" class="t tdb" style="left:1963.00px;top:1045.00px;letter-spacing:0.812px">+2.05</div>
<div id="t89" class="t td" style="left:1883.50px;top:1080.00px;letter-spacing:0.462px">2.41</div>
<div id="t90" class="t tdb" style="left:1963.00px;top:1080.00px;letter-spacing:0.812px">+1.44</div>
<div id="t91" class="t td" style="left:1595.00px;top:1114.00px;letter-spacing:0.735px">Asian Alone</div>
<div id="t92" class="t td" style="left:1883.50px;top:1114.00px;letter-spacing:0.629px">0.54</div>
<div id="t93" class="t td" style="left:1962.00px;top:1114.00px;letter-spacing:0.848px">-7.86</div>
<div id="t94" class="t td" style="left:1594.00px;top:1138.00px;letter-spacing:0.559px">Pacific Islander Alone</div>
<div id="t95" class="t td" style="left:1883.50px;top:1138.00px;letter-spacing:0.629px">0.09</div>
<div id="t96" class="t td" style="left:1962.00px;top:1138.00px;letter-spacing:0.598px">-0.04</div>
<div id="t97" class="t td" style="left:1594.00px;top:1162.00px;letter-spacing:0.681px">Other Race</div>
<div id="t98" class="t td" style="left:1883.50px;top:1162.00px;letter-spacing:0.802px">32.84</div>
<div id="t99" class="t tdb" style="left:1963.00px;top:1162.00px;letter-spacing:0.915px">+20.77</div>
<div id="t100" class="t td" style="left:1595.00px;top:1186.00px;letter-spacing:0.434px">Two or More Races</div>
<div id="t101" class="t td" style="left:1883.50px;top:1186.00px;letter-spacing:0.802px">22.66</div>
<div id="t102" class="t tdb" style="left:1963.00px;top:1186.00px;letter-spacing:1.062px">+8.50</div>
<div id="t103" class="t td" style="left:1594.00px;top:1210.00px;letter-spacing:0.600px">Hispanic Origin (Any Race)</div>
<div id="t104" class="t td" style="left:1883.50px;top:1210.00px;letter-spacing:0.802px">70.34</div>
<div id="t105" class="t tdb" style="left:1963.00px;top:1210.00px;letter-spacing:1.115px">+41.16</div>
<div id="t106" class="t td" style="left:1595.00px;top:1069.00px;letter-spacing:0.689px">American Indian/Alaska Native</div>
<div id="t107" class="t td" style="left:1595.00px;top:1090.00px;letter-spacing:1.324px">Alone</div>
<div id="t108" class="t bars" style="left:1795.00px;top:1298.00px;letter-spacing:0.419px">Bars show deviation from</div>
<div id="t109" class="t dd" style="left:2020.00px;top:1297.00px;letter-spacing:0.032px">Dallas-Ft. Worth, TX</div>
<div id="t110" class="t ax" style="left:941.95px;top:935.00px">200000+</div>
<div id="t111" class="t ax" style="left:904.91px;top:974.00px">150000-199999</div>
<div id="t112" class="t ax" style="left:904.91px;top:1012.00px">100000-149999</div>
<div id="t113" class="t ax" style="left:918.26px;top:1051.00px">75000-99999</div>
<div id="t114" class="t ax" style="left:918.26px;top:1089.00px">50000-74999</div>
<div id="t115" class="t ax" style="left:918.26px;top:1128.00px">35000-49999</div>
<div id="t116" class="t ax" style="left:918.26px;top:1166.00px">25000-34999</div>
<div id="t117" class="t ax" style="left:918.26px;top:1205.00px">15000-24999</div>
<div id="t118" class="t ax" style="left:944.96px;top:1243.00px">0-14999</div>
<div id="t119" class="t ax" style="left:997.66px;top:1281.00px">0</div>
<div id="t120" class="t ax" style="left:1032.95px;top:1281.00px">400</div>
<div id="t121" class="t ax" style="left:1074.41px;top:1281.00px">800</div>
<div id="t122" class="t ax" style="left:1110.87px;top:1281.00px">1,200</div>
<div id="t123" class="t ax" style="left:1152.83px;top:1281.00px">1,600</div>
<div id="t124" class="t ax" style="left:1194.29px;top:1281.00px">2,000</div>
<div id="t125" class="t ax" style="left:1236.25px;top:1281.00px">2,400</div>
<div id="t126" class="t ax" style="left:1277.71px;top:1281.00px">2,800</div>
<div id="t127" class="t ax" style="left:1319.67px;top:1281.00px">3,200</div>
<div id="t128" class="t ax" style="left:1361.13px;top:1281.00px">3,600</div>
<div id="t129" class="t ax" style="left:1403.09px;top:1281.00px">4,000</div>
<div id="t130" class="t ax" style="left:1444.55px;top:1281.00px">4,400</div>
<div id="t131" class="t ax" style="left:1486.51px;top:1281.00px">4,800</div>
<div id="t132" class="t axt" style="left:1217.50px;top:1314.00px;letter-spacing:0.817px">Households</div>
<div id="t133" class="t axv" style="left:882.00px;top:1196.19px;letter-spacing:-0.040px;transform-origin:0 14.81px;transform:rotate(-90deg)">Median Household Income ($)</div>
</body></html>
